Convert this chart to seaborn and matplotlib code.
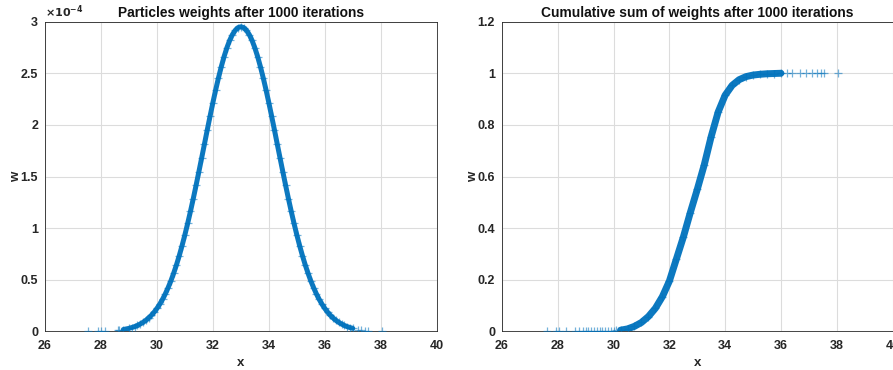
import matplotlib
matplotlib.use("Agg")
import matplotlib.pyplot as plt
import seaborn as sns
import pandas as pd
from matplotlib.ticker import FuncFormatter

# particle positions and weights (weights in units of 1e-4)
x_w = [27.55, 27.9, 28.0, 28.15, 28.6, 28.65, 28.8,
       29.0, 29.1, 29.2, 29.3, 29.4, 29.5, 29.6, 29.7, 29.8, 29.9,
       30.0, 30.1, 30.2, 30.3, 30.4, 30.5, 30.6, 30.7, 30.8, 30.9,
       31.0, 31.1, 31.2, 31.3, 31.4, 31.5, 31.6, 31.7, 31.8, 31.9,
       32.0, 32.1, 32.2, 32.3, 32.4, 32.5, 32.6, 32.7, 32.8, 32.9,
       33.0, 33.1, 33.2, 33.3, 33.4, 33.5, 33.6, 33.7, 33.8, 33.9,
       34.0, 34.1, 34.2, 34.3, 34.4, 34.5, 34.6, 34.7, 34.8, 34.9,
       35.0, 35.1, 35.2, 35.3, 35.4, 35.5, 35.6, 35.7, 35.8, 35.9,
       36.0, 36.1, 36.2, 36.3, 36.4, 36.5, 36.6, 36.7, 36.8, 36.9,
       37.0, 37.2, 37.3, 37.45, 37.55, 38.05]
w_e4 = [0.002, 0.003, 0.004, 0.005, 0.011, 0.012, 0.019,
        0.030, 0.038, 0.047, 0.058, 0.072, 0.088, 0.107, 0.130, 0.156, 0.187,
        0.223, 0.264, 0.311, 0.364, 0.424, 0.490, 0.565, 0.646, 0.735, 0.832,
        0.936, 1.047, 1.164, 1.287, 1.415, 1.547, 1.681, 1.816, 1.952, 2.085,
        2.215, 2.339, 2.455, 2.563, 2.661, 2.746, 2.818, 2.875, 2.916, 2.942,
        2.950, 2.942, 2.916, 2.875, 2.818, 2.746, 2.661, 2.563, 2.455, 2.339,
        2.215, 2.085, 1.952, 1.816, 1.681, 1.547, 1.415, 1.287, 1.164, 1.047,
        0.936, 0.832, 0.735, 0.646, 0.565, 0.490, 0.424, 0.364, 0.311, 0.264,
        0.223, 0.187, 0.156, 0.130, 0.107, 0.088, 0.072, 0.058, 0.047, 0.038,
        0.030, 0.019, 0.011, 0.007, 0.005, 0.002]

# cumulative sum of weights
x_c = [27.6, 27.95, 28.05, 28.3, 28.6, 28.75, 28.9, 29.0, 29.1, 29.2,
       29.3, 29.4, 29.5, 29.6, 29.7, 29.8, 29.9, 30.0, 30.1, 30.25,
       30.5, 30.75, 31.0, 31.25, 31.5, 31.75, 32.0, 32.25,
       32.5, 32.75, 33.0, 33.25, 33.5, 33.75, 34.0, 34.25, 34.5, 34.75,
       35.0, 35.25, 35.5, 35.75, 36.0, 36.2, 36.4, 36.7, 36.9, 37.1,
       37.3, 37.45, 37.55, 38.05]
c_w = [0.0, 0.0, 0.0, 0.0, 0.0, 0.0, 0.0, 0.0005, 0.0005, 0.001,
       0.001, 0.001, 0.0015, 0.0015, 0.002, 0.002, 0.002, 0.003, 0.004, 0.005,
       0.01, 0.02, 0.035, 0.058, 0.09, 0.135, 0.195, 0.28,
       0.365, 0.46, 0.55, 0.645, 0.755, 0.85, 0.915, 0.953, 0.975, 0.987,
       0.993, 0.996, 0.998, 0.999, 1.0, 1.0, 1.0, 1.0, 1.0, 1.0,
       1.0, 1.0, 1.0, 1.0]

blue = "#0072BD"

sns.set_style("whitegrid")
plt.rcParams["font.family"] = ["Liberation Sans", "DejaVu Sans"]
plt.rcParams["font.weight"] = "bold"

df_w = pd.DataFrame({"x": x_w, "w": w_e4})
df_c = pd.DataFrame({"x": x_c, "w": c_w})

fig = plt.figure(figsize=(8.93, 3.70), dpi=100)
ax1 = fig.add_axes([45 / 893, 0.1041, 391.7 / 893, 0.8375])
ax2 = fig.add_axes([502 / 893, 0.1041, 390.5 / 893, 0.8375])


def draw(ax, df, lo, hi, lw):
    core = df[(df["x"] >= lo) & (df["x"] <= hi)]
    sns.lineplot(data=core, x="x", y="w", ax=ax, color=blue, linewidth=lw,
                 alpha=0.95, sort=True, estimator=None)
    sns.scatterplot(data=df, x="x", y="w", ax=ax, marker="+", color=blue,
                    s=30, linewidth=0.9, alpha=0.55, zorder=3)


draw(ax1, df_w, 28.7, 37.1, 3.6)
draw(ax2, df_c, 30.2, 36.0, 5.0)

ax1.set_ylim(0, 3)
ax1.set_yticks([0, 0.5, 1, 1.5, 2, 2.5, 3])
ax2.set_ylim(0, 1.2)
ax2.set_yticks([0, 0.2, 0.4, 0.6, 0.8, 1.0, 1.2])

fmt = FuncFormatter(lambda v, p: "%g" % round(v, 3))
titles = ["Particles weights after 1000 iterations",
          "Cumulative sum of weights after 1000 iterations"]
for ax, t in zip([ax1, ax2], titles):
    ax.set_xlim(26, 40)
    ax.set_xticks(range(26, 41, 2))
    ax.yaxis.set_major_formatter(fmt)
    ax.xaxis.set_major_formatter(fmt)
    ax.grid(True, color="#dcdcdc", linewidth=0.8)
    for s in ax.spines.values():
        s.set_visible(True)
        s.set_color("#262626")
        s.set_linewidth(0.6)
    ax.tick_params(axis="x", labelsize=9, pad=6, length=0, colors="#262626")
    ax.tick_params(axis="y", labelsize=9, pad=5, length=0, colors="#262626")
    ax.set_title(t, fontsize=9.9, fontweight="bold", pad=3, color="#111111")
    ax.set_xlabel("x", fontsize=9.5, fontweight="bold", labelpad=4)
    ax.set_ylabel("w", fontsize=9.5, fontweight="bold", labelpad=-1)

ax1.text(0.0, 1.005, r"$\times10^{-4}$", transform=ax1.transAxes,
         fontsize=8, ha="left", va="bottom", color="#262626")

fig.savefig("out.png", dpi=100)
